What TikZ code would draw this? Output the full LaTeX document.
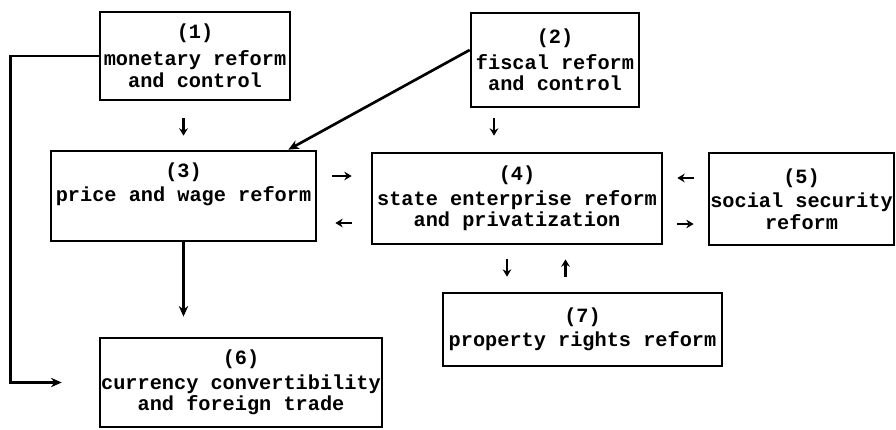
\documentclass[tikz,border=0pt]{standalone}
\usepackage{fontspec}
\setmonofont{Liberation Mono}
\usetikzlibrary{arrows.meta,calc}
\tikzset{
  box/.style 2 args={draw, line width=2pt, minimum width=#1*0.75pt, minimum height=#2*0.75pt,
    inner xsep=0pt, inner ysep=0pt, align=center,
    font=\ttfamily\bfseries\fontsize{15.2pt}{16.2pt}\selectfont},
  conn/.style={line width=2pt, -{Stealth[length=8pt,width=7pt]}},
  sm/.style={line width=2pt, -{Stealth[length=5.5pt,width=6.5pt]}}
}
\begin{document}
\begin{tikzpicture}[x=0.75pt,y=-0.75pt]
\path[use as bounding box] (0,0) rectangle (896,429);

\node[box={190}{88}] (b1) at (195,56) {(1)\\[4pt]monetary reform\\and control};
\node[box={168}{94}] (b2) at (555,60) {(2)\\[3pt]fiscal reform\\and control};
\node[box={265}{90}] (b3) at (183.5,196) {(3)\\[2pt]price and wage reform\\ \strut};
\node[box={290}{91}] (b4) at (517,198.5) {(4)\\[2pt]state enterprise reform\\and privatization};
\node[box={185}{92}] (b5) at (801.5,199) {(5)\\[2pt]social security\\reform};
\node[box={282}{89}] (b6) at (241,382.5) {(6)\\[2pt]currency convertibility\\and foreign trade};
\node[box={279}{73}] (b7) at (582.5,329.5) {(7)\\[2pt]property rights reform};

% long connectors
\draw[conn, shorten >=27.75pt] (b1.west) -- ++(-88,0) |- (b6.west);
\draw[conn] ($(b2.west)+(0,-10)$) -- ($(b3.north east)+(-29,0)$);
\draw[conn, shorten >=15pt] (b3.south) -- (b3.south |- b6.north);

% short arrows
\draw[sm, shorten <=12.75pt, shorten >=10.5pt] (b1.south -| b3.north) -- (b3.north);
\coordinate (p24) at ($(b4.north)+(-23,0)$);
\draw[sm, shorten <=7.5pt, shorten >=12pt] (b2.south -| p24) -- (p24);
\coordinate (p34) at ($(b3.east)+(0,-20)$);
\draw[sm, shorten <=11.25pt, shorten >=14.25pt] (p34) -- (p34 -| b4.west);
\coordinate (p43) at ($(b4.west)+(0,24.5)$);
\draw[sm, shorten <=14.25pt, shorten >=13.5pt] (p43) -- (p43 -| b3.east);
\coordinate (p54) at ($(b5.west)+(0,-21)$);
\draw[sm, shorten <=10.5pt, shorten >=10.5pt] (p54) -- (p54 -| b4.east);
\coordinate (p45) at ($(b4.east)+(0,25.5)$);
\draw[sm, shorten <=10.5pt, shorten >=10.5pt] (p45) -- (p45 -| b5.west);
\coordinate (p47) at ($(b4.south)+(-10,0)$);
\draw[sm, shorten <=10.5pt, shorten >=11.25pt] (p47) -- (p47 |- b7.north);
\coordinate (p74) at ($(b7.north)+(-17,0)$);
\draw[sm, shorten <=11.25pt, shorten >=10.5pt] (p74) -- (p74 |- b4.south);
\end{tikzpicture}
\end{document}
